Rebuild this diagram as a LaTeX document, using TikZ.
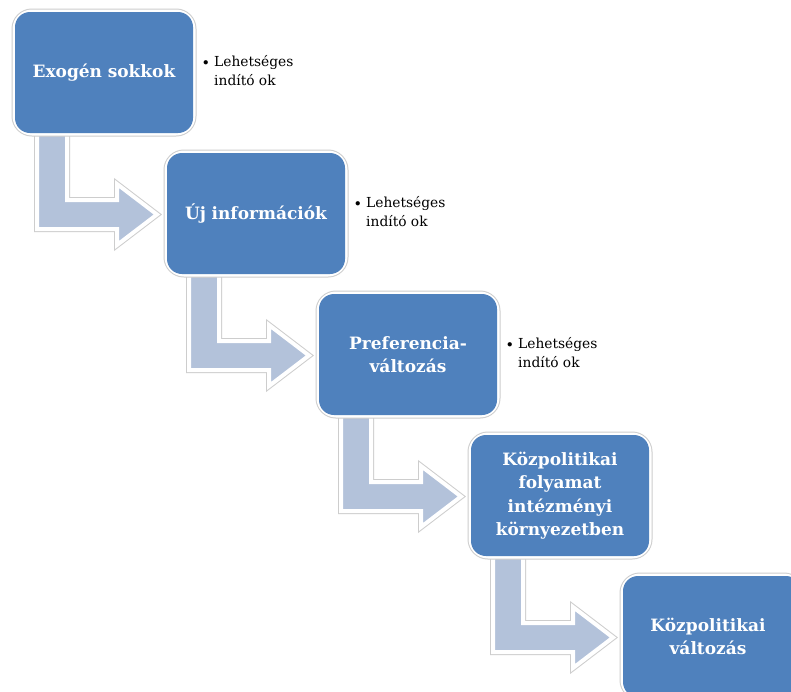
\documentclass[tikz,border=0pt]{standalone}
\usepackage{fontspec}
\setmainfont{DejaVu Serif}
\definecolor{boxblue}{RGB}{79,129,189}
\definecolor{arrowblue}{RGB}{179,194,218}
\definecolor{rimgray}{RGB}{205,205,205}
\tikzset{
  stepbox/.style={fill=boxblue, rounded corners=15pt, minimum width=178pt, minimum height=121pt,
    inner sep=0pt, align=center, text=white, font=\fontsize{17}{23.5}\selectfont\bfseries,
    text width=170pt},
  rim/.style={draw=rimgray, line width=7pt, rounded corners=17pt},
  rimwhite/.style={draw=white, line width=5pt, rounded corners=17pt},
  bulletnote/.style={anchor=north west, align=left, inner sep=0pt,
    font=\fontsize{13.8}{19}\selectfont, text=black},
}
\newcommand{\blt}{\makebox[11pt][l]{\raisebox{0.5pt}{\fontsize{11}{11}\selectfont$\bullet$}}}
\begin{document}
\begin{tikzpicture}[x=1pt,y=-1pt]
\useasboundingbox (0,0) rectangle (791,691);
\clip (0,0) rectangle (791,691);
\fill[white] (0,0) rectangle (791,691);
% bent arrows
\foreach \i in {0,1,2,3}{
  \begin{scope}[shift={(152*\i,141*\i)}]
    \path[draw=rimgray, line width=6pt, line join=miter, fill=arrowblue]
      (37,134) -- (37,229) -- (117,229) -- (117,245) -- (157,214.5) -- (117,184) -- (117,200) -- (67,200) -- (67,134) -- cycle;
    \path[draw=white, line width=4pt, line join=miter, fill=arrowblue]
      (37,134) -- (37,229) -- (117,229) -- (117,245) -- (157,214.5) -- (117,184) -- (117,200) -- (67,200) -- (67,134) -- cycle;
  \end{scope}
}
% box rims
\foreach \i in {0,...,4}{
  \begin{scope}[shift={(152*\i,141*\i)}]
    \draw[rim] (15,12) rectangle (193,133);
    \draw[rimwhite] (15,12) rectangle (193,133);
  \end{scope}
}
\node[stepbox] (b1) at (104,72.5) {Exogén sokkok};
\node[stepbox] (b2) at (256,213.5) {Új információk};
\node[stepbox] (b3) at (408,354.5) {Preferencia-\\változás};
\node[stepbox] (b4) at (560,495.5) {Közpolitikai\\folyamat\\intézményi\\környezetben};
\node[stepbox, text width=160pt] (b5) at (712,636.5) {\hspace*{-8pt}Közpolitikai\\\hspace*{-8pt}változás};
% notes
\node[bulletnote] (n1) at (203,55) {\blt Lehetséges\\\hspace*{11pt}indító ok};
\node[bulletnote] (n2) at (355,196) {\blt Lehetséges\\\hspace*{11pt}indító ok};
\node[bulletnote] (n3) at (507,337) {\blt Lehetséges\\\hspace*{11pt}indító ok};
\end{tikzpicture}
\end{document}
